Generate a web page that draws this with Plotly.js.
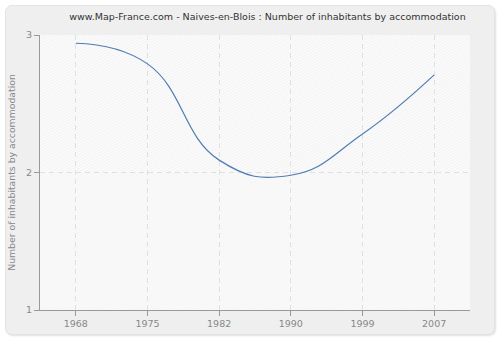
<!DOCTYPE html>
<html>
<head>
<meta charset="utf-8">
<script src="https://cdn.plot.ly/plotly-3.0.1.min.js"></script>
<style>
html,body{margin:0;padding:0;background:#fff;}
#wrap{position:relative;width:500px;height:340px;}
#panel{position:absolute;left:5px;top:5px;width:488px;height:328px;background:#efefef;border:1px solid #e4e4e4;border-radius:7px;box-shadow:1px 1px 2px #e0e0e0;}
#chart{position:absolute;left:0;top:0;width:500px;height:340px;}
</style>
</head>
<body>
<div id="wrap"><div id="panel"></div><div id="chart"></div></div>
<script>
const years = ["1968", "1975", "1982", "1990", "1999", "2007"];
const inhabitantsPerAccommodation = [2.94, 2.79, 2.09, 1.98, 2.28, 2.71];
const yTicks = [1, 2, 3];

function hatch(stroke, bg) {
  const svg = '<svg xmlns="http://www.w3.org/2000/svg" width="430" height="275">' +
    '<defs><pattern id="p" width="4" height="4" patternUnits="userSpaceOnUse" patternTransform="rotate(45)">' +
    '<rect width="4" height="4" fill="' + bg + '"/><line x1="0" y1="0" x2="0" y2="4" stroke="' + stroke + '" stroke-width="1.2"/></pattern></defs>' +
    '<rect width="430" height="275" fill="url(#p)"/></svg>';
  return 'data:image/svg+xml;charset=utf-8,' + encodeURIComponent(svg);
}

const trace = {
  x: years,
  y: inhabitantsPerAccommodation,
  type: 'scatter',
  mode: 'lines',
  line: {color: '#4f7db4', width: 1.2, shape: 'spline', smoothing: 1.3},
  hoverinfo: 'skip'
};

const layout = {
  width: 500, height: 340,
  margin: {l: 40, r: 30, t: 35, b: 30},
  paper_bgcolor: 'rgba(0,0,0,0)',
  plot_bgcolor: '#f9f9f9',
  showlegend: false,
  title: {
    text: 'www.Map-France.com - Naives-en-Blois : Number of inhabitants by accommodation',
    font: {family: 'DejaVu Sans', size: 9.5, color: '#333333'},
    x: 0.535, xanchor: 'center', y: 0.95, yanchor: 'middle'
  },
  xaxis: {
    type: 'category',
    range: [-0.5, 5.5],
    showline: true, linecolor: '#999999', linewidth: 1,
    ticks: 'outside', ticklen: 5, tickcolor: '#999999',
    showgrid: true, gridcolor: '#e0e0e0', griddash: '5px,4px', gridwidth: 1,
    tickfont: {family: 'DejaVu Sans', size: 9.5, color: '#888888'},
    zeroline: false, fixedrange: true
  },
  yaxis: {
    range: [1, 3],
    tickvals: yTicks,
    ticktext: yTicks.map(String),
    showline: true, linecolor: '#999999', linewidth: 1,
    ticks: 'outside', ticklen: 5, tickcolor: '#999999',
    showgrid: true, gridcolor: '#e0e0e0', griddash: '5px,4px', gridwidth: 1,
    tickfont: {family: 'DejaVu Sans', size: 9.5, color: '#888888'},
    title: {text: 'Number of inhabitants by accommodation', font: {family: 'DejaVu Sans', size: 9.3, color: '#888888'}, standoff: 8},
    zeroline: false, fixedrange: true
  },
  images: [
    {source: hatch('#ececec', '#fafafa'), xref: 'paper', yref: 'paper', x: 0, y: 1, sizex: 1, sizey: 0.5, sizing: 'stretch', xanchor: 'left', yanchor: 'top', layer: 'below'},
    {source: hatch('#f2f2f2', '#f9f9f9'), xref: 'paper', yref: 'paper', x: 0, y: 0.5, sizex: 1, sizey: 0.5, sizing: 'stretch', xanchor: 'left', yanchor: 'top', layer: 'below'}
  ]
};

Plotly.newPlot('chart', [trace], layout, {displayModeBar: false, staticPlot: true});
</script>
</body>
</html>
